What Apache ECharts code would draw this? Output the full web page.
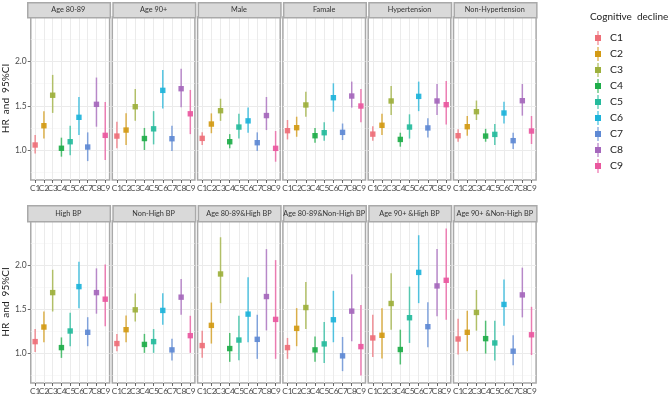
<!DOCTYPE html>
<html><head><meta charset="utf-8">
<script src="https://cdn.jsdelivr.net/npm/echarts@6/dist/echarts.min.js"></script>
<style>html,body{margin:0;padding:0;background:#fff}#c{width:669px;height:397px}</style>
</head><body><div id="c"></div>
<script>
const categories = ['C1','C2','C3','C4','C5','C6','C7','C8','C9'];
const colors = ['#EE6F78','#D39A14','#9DB03C','#1EAD49','#25BB9C','#1DB3DA','#5E89D4','#A567BC','#E9579E'];
const yMajor = [1.0, 1.5, 2.0];
const yMinor = [0.75, 1.25, 1.75, 2.25];

const hrAge8089 = [1.057,1.275,1.62,1.02,1.094,1.37,1.034,1.517,1.166];
const loAge8089 = [0.96,1.13,1.42,0.925,0.94,1.17,0.875,1.264,0.887];
const hiAge8089 = [1.17,1.44,1.85,1.14,1.275,1.60,1.20,1.82,1.543];

const hrAge90 = [1.158,1.226,1.49,1.13,1.24,1.675,1.128,1.694,1.41];
const loAge90 = [1.02,1.057,1.33,1.0,1.064,1.47,0.99,1.483,1.18];
const hiAge90 = [1.32,1.415,1.69,1.25,1.44,1.905,1.275,1.92,1.68];

const hrMale = [1.132,1.294,1.445,1.094,1.26,1.33,1.083,1.39,1.019];
const loMale = [1.057,1.19,1.33,1.02,1.13,1.196,0.99,1.226,0.868];
const hiMale = [1.20,1.415,1.58,1.18,1.41,1.48,1.20,1.60,1.215];

const hrFemale = [1.219,1.253,1.51,1.162,1.196,1.592,1.20,1.611,1.498];
const loFemale = [1.12,1.15,1.377,1.083,1.106,1.434,1.113,1.48,1.313];
const hiFemale = [1.34,1.377,1.66,1.25,1.313,1.755,1.30,1.774,1.69];

const hrHyp = [1.18,1.28,1.555,1.12,1.26,1.607,1.25,1.555,1.513];
const loHyp = [1.106,1.17,1.396,1.038,1.13,1.44,1.143,1.396,1.29];
const hiHyp = [1.27,1.41,1.725,1.196,1.404,1.774,1.36,1.747,1.78];

const hrNonHyp = [1.162,1.264,1.434,1.158,1.177,1.419,1.106,1.558,1.215];
const loNonHyp = [1.094,1.162,1.34,1.094,1.057,1.30,1.011,1.389,1.068];
const hiNonHyp = [1.234,1.385,1.56,1.24,1.294,1.547,1.196,1.747,1.385];

const hrHighBP = [1.132,1.298,1.69,1.064,1.253,1.758,1.238,1.69,1.615];
const loHighBP = [1.015,1.125,1.475,0.947,1.08,1.513,1.08,1.45,1.306];
const hiHighBP = [1.275,1.475,1.95,1.18,1.46,2.04,1.41,1.966,2.01];

const hrNonHighBP = [1.11,1.268,1.494,1.10,1.132,1.487,1.038,1.638,1.20];
const loNonHighBP = [1.023,1.125,1.36,1.004,1.004,1.325,0.917,1.438,1.004];
const hiNonHighBP = [1.22,1.43,1.68,1.22,1.275,1.683,1.166,1.845,1.426];

const hrA8089High = [1.087,1.317,1.902,1.053,1.15,1.445,1.158,1.645,1.385];
const loA8089High = [0.947,1.11,1.57,0.902,0.92,1.125,0.936,1.26,0.936];
const hiA8089High = [1.257,1.577,2.32,1.23,1.426,1.864,1.438,2.185,2.06];

const hrA8089NonHigh = [1.064,1.283,1.52,1.038,1.106,1.381,0.97,1.479,1.075];
const loA8089NonHigh = [0.936,1.08,1.275,0.902,0.89,1.125,0.796,1.136,0.747];
const hiA8089NonHigh = [1.174,1.513,1.81,1.19,1.355,1.71,1.185,1.898,1.55];

const hrA90High = [1.174,1.204,1.566,1.042,1.404,1.92,1.302,1.766,1.83];
const loA90High = [0.958,0.94,1.268,0.872,1.117,1.57,1.068,1.42,1.38];
const hiA90High = [1.438,1.513,1.91,1.268,1.758,2.343,1.58,2.185,2.42];

const hrA90NonHigh = [1.162,1.238,1.464,1.166,1.117,1.555,1.023,1.664,1.21];
const loA90NonHigh = [0.985,1.023,1.257,0.996,0.917,1.313,0.864,1.408,0.98];
const hiA90NonHigh = [1.392,1.483,1.72,1.37,1.37,1.84,1.204,1.974,1.528];

const panels = [
  {name:'Age 80-89', hr:hrAge8089, lo:loAge8089, hi:hiAge8089},
  {name:'Age 90+', hr:hrAge90, lo:loAge90, hi:hiAge90},
  {name:'Male', hr:hrMale, lo:loMale, hi:hiMale},
  {name:'Famale', hr:hrFemale, lo:loFemale, hi:hiFemale},
  {name:'Hypertension', hr:hrHyp, lo:loHyp, hi:hiHyp},
  {name:'Non-Hypertension', hr:hrNonHyp, lo:loNonHyp, hi:hiNonHyp},
  {name:'High BP', hr:hrHighBP, lo:loHighBP, hi:hiHighBP},
  {name:'Non-High BP', hr:hrNonHighBP, lo:loNonHighBP, hi:hiNonHighBP},
  {name:'Age 80-89&High BP', hr:hrA8089High, lo:loA8089High, hi:hiA8089High},
  {name:'Age 80-89&Non-High BP', hr:hrA8089NonHigh, lo:loA8089NonHigh, hi:hiA8089NonHigh},
  {name:'Age 90+ &High BP', hr:hrA90High, lo:loA90High, hi:hiA90High},
  {name:'Age 90+ &Non-High BP', hr:hrA90NonHigh, lo:loA90NonHigh, hi:hiA90NonHigh}
];

const FONT = 'Lato';
const L0 = 27, PITCH = 85.3, PW = 82.6;
const rows = [{strip:2, top:17, bottom:180},{strip:205, top:221, bottom:383}];

const grids = [], xAxes = [], yAxes = [], series = [], graphics = [];
panels.forEach((p, i) => {
  const r = Math.floor(i / 6), c = i % 6;
  const row = rows[r];
  const left = L0 + c * PITCH;
  grids.push({left:left, top:row.top, width:PW, height:row.bottom-row.top,
    show:true, backgroundColor:'#fff', borderColor:'#A9A9A9', borderWidth:1.5, containLabel:false});
  xAxes.push({type:'category', gridIndex:i, data:categories, boundaryGap:true,
    axisLine:{show:false}, splitLine:{show:false},
    axisTick:{show:true, alignWithLabel:true, length:3, lineStyle:{color:'#444', width:0.8}},
    axisLabel:{interval:0, fontSize:8.3, margin:4, color:'#4D4D4D', fontFamily:FONT}});
  yAxes.push({type:'value', gridIndex:i, min:0.661, max:2.505,
    axisLine:{show:false}, splitLine:{show:false},
    axisTick:{show:c===0, length:3, customValues:yMajor, lineStyle:{color:'#444', width:0.8}},
    axisLabel:{show:c===0, customValues:yMajor, fontSize:8.5, margin:4, color:'#4D4D4D', fontFamily:FONT,
      formatter:v => v.toFixed(1)},
    name: c===0 ? 'HR  and  95%CI' : '', nameLocation:'middle', nameGap:15,
    nameTextStyle:{fontSize:10, color:'#222', fontFamily:FONT}});
  const ml = [];
  yMinor.forEach(v => ml.push({yAxis:v, lineStyle:{color:'#F3F3F3', width:0.6, type:'solid'}}));
  yMajor.forEach(v => ml.push({yAxis:v, lineStyle:{color:'#EBEBEB', width:1, type:'solid'}}));
  categories.forEach(cat => ml.push({xAxis:cat, lineStyle:{color:'#EBEBEB', width:1, type:'solid'}}));
  series.push({type:'line', xAxisIndex:i, yAxisIndex:i, data:[], silent:true, z:1,
    markLine:{silent:true, z:1, symbol:'none', label:{show:false}, animation:false, data:ml}});
  categories.forEach((cat, k) => {
    series.push({type:'custom', name:cat, xAxisIndex:i, yAxisIndex:i, z:6,
      itemStyle:{color:colors[k]},
      encode:{x:0, y:1},
      data:[[k, p.hr[k], p.lo[k], p.hi[k]]],
      renderItem:(params, api) => {
        const x = api.value(0);
        const ptC = api.coord([x, api.value(1)]);
        const ptL = api.coord([x, api.value(2)]);
        const ptH = api.coord([x, api.value(3)]);
        const col = colors[k];
        const s = 5.4;
        return {type:'group', children:[
          {type:'line', shape:{x1:ptL[0], y1:ptL[1], x2:ptH[0], y2:ptH[1]},
           style:{stroke:col, lineWidth:1.5, opacity:0.75}},
          {type:'rect', shape:{x:ptC[0]-s/2, y:ptC[1]-s/2, width:s, height:s},
           style:{fill:col, opacity:0.92}}
        ]};
      }});
  });
  graphics.push({type:'rect', left:left, top:row.strip, silent:true, z:10,
    shape:{width:PW, height:row.top-row.strip},
    style:{fill:'#D9D9D9', stroke:'#A9A9A9', lineWidth:1.5}});
  graphics.push({type:'text', x:left+PW/2, y:row.strip+(row.top-row.strip)/2+0.5, silent:true, z:11,
    style:{text:p.name, textAlign:'center', textVerticalAlign:'middle', fontSize:7.3,
      fill:'#333', fontFamily:FONT}});
});

const legendIcon = 'path://M2.5,0L3.5,0L3.5,4L6,4L6,10L3.5,10L3.5,14L2.5,14L2.5,10L0,10L0,4L2.5,4Z';

const chart = echarts.init(document.getElementById('c'), null, {renderer:'canvas'});
chart.setOption({
  animation:false,
  backgroundColor:'#fff',
  textStyle:{fontFamily:FONT},
  title:{text:'Cognitive  decline', left:590, top:12, padding:0,
    textStyle:{fontSize:10, fontWeight:'normal', color:'#222', fontFamily:FONT}},
  legend:{orient:'vertical', left:595, top:31, padding:0, itemWidth:6, itemHeight:14, itemGap:2,
    selectedMode:false,
    data:categories.map(c => ({name:c, icon:legendIcon})),
    textStyle:{fontSize:10.4, color:'#222', fontFamily:FONT, padding:[0,0,0,4]}},
  grid:grids, xAxis:xAxes, yAxis:yAxes, series:series, graphic:graphics
});
</script></body></html>
